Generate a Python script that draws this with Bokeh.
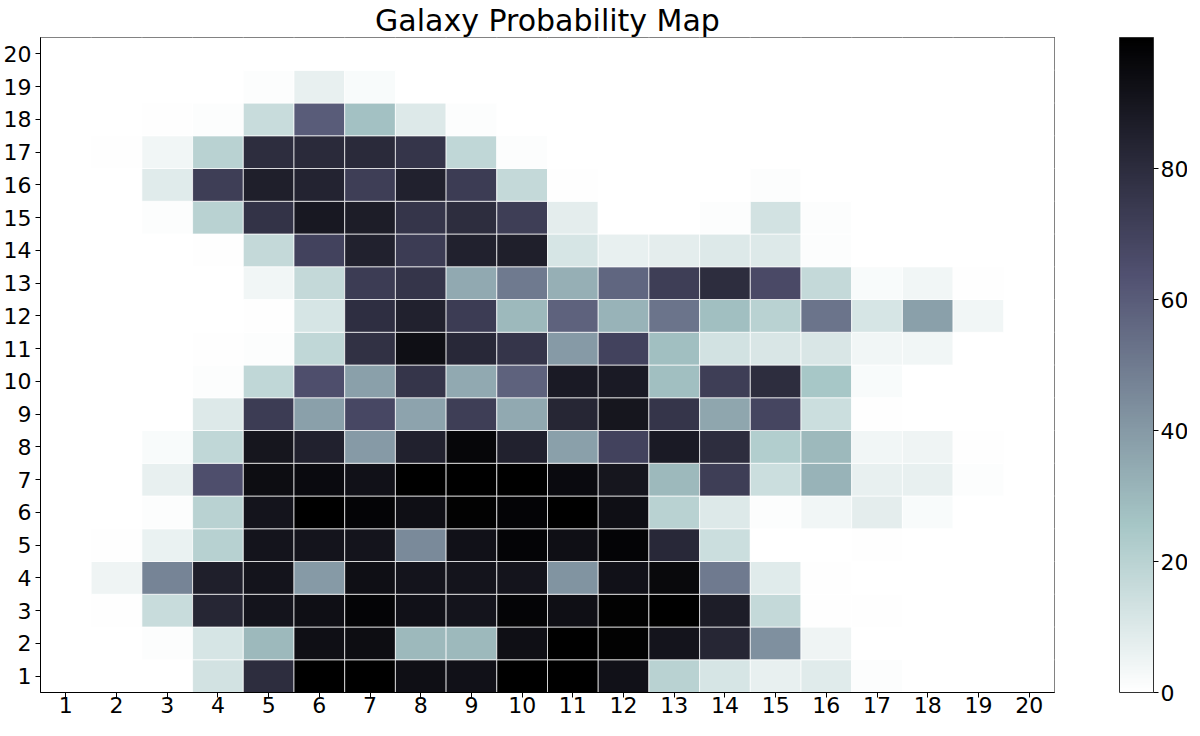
import numpy as np
from bokeh.plotting import figure
from bokeh.models import LinearColorMapper, ColorBar, FixedTicker, ColumnDataSource
from bokeh.transform import transform
from bokeh.embed import file_html
from bokeh.resources import INLINE

# ---- data: probability (%) per cell, columns 1..20, one list per row ----
row_20 = [0, 0, 0, 0, 0, 0, 0, 0, 0, 0, 0, 0, 0, 0, 0, 0, 0, 0, 0, 0]
row_19 = [0, 0, 0, 0, 1, 7, 2, 0, 0, 0, 0, 0, 0, 0, 0, 0, 0, 0, 0, 0]
row_18 = [0, 0, 0.5, 1, 16, 60, 27, 10, 1, 0, 0, 0, 0, 0, 0, 0, 0, 0, 0, 0]
row_17 = [0, 0.5, 4, 20, 80, 81, 81, 76, 18, 1, 0, 0, 0, 0, 0, 0, 0, 0, 0, 0]
row_16 = [0, 0, 9, 72, 86, 84, 72, 85, 73, 17, 0.5, 0, 0, 0, 1, 0, 0, 0, 0, 0]
row_15 = [0, 0, 1, 20, 77, 89, 87, 76, 80, 72, 8, 0, 0, 1, 13, 1, 0, 0, 0, 0]
row_14 = [0, 0, 0, 0.5, 17, 70, 85, 73, 85, 86, 12, 7, 8, 10, 10, 1, 0, 0, 0, 0]
row_13 = [0, 0, 0, 0, 4, 17, 73, 76, 35, 50, 33, 57, 72, 80, 67, 17, 2, 4, 0.5, 0]
row_12 = [0, 0, 0, 0, 0.5, 12, 79, 85, 73, 30, 58, 32, 52, 28, 20, 52, 12, 38, 4, 0]
row_11 = [0, 0, 0, 0.5, 1, 18, 78, 93, 82, 76, 40, 70, 28, 13, 11, 11, 4, 4, 0, 0]
row_10 = [0, 0, 0, 1, 18, 65, 38, 76, 35, 58, 88, 88, 28, 72, 80, 25, 2, 0, 0, 0]
row_09 = [0, 0, 0, 10, 73, 38, 68, 37, 72, 35, 83, 90, 76, 36, 69, 15, 0.5, 0, 0, 0]
row_08 = [0, 0, 2, 18, 90, 85, 40, 85, 97, 85, 38, 70, 88, 80, 22, 30, 4, 5, 0.5, 0]
row_07 = [0, 0, 7, 65, 94, 95, 92, 100, 100, 100, 95, 90, 30, 72, 15, 32, 7, 7, 1, 0]
row_06 = [0, 0, 1, 20, 91, 100, 98, 93, 99, 98, 100, 93, 20, 10, 1, 4, 8, 2, 0, 0]
row_05 = [0, 0.5, 6, 21, 91, 91, 91, 45, 92, 98, 93, 98, 82, 15, 0, 0, 0.5, 0, 0, 0]
row_04 = [0, 5, 47, 86, 91, 40, 93, 91, 91, 91, 42, 92, 96, 50, 9, 0.5, 0, 0, 0, 0]
row_03 = [0, 0.5, 16, 83, 91, 93, 98, 92, 91, 98, 93, 99, 100, 87, 17, 0.5, 0.5, 0, 0, 0]
row_02 = [0, 0, 1, 12, 30, 93, 94, 30, 30, 93, 100, 99, 91, 83, 43, 5, 0, 0, 0, 0]
row_01 = [0, 0, 0, 13, 80, 100, 100, 93, 92, 100, 100, 92, 20, 12, 7, 9, 1, 0, 0, 0]

rows = [row_01, row_02, row_03, row_04, row_05, row_06, row_07, row_08, row_09, row_10,
        row_11, row_12, row_13, row_14, row_15, row_16, row_17, row_18, row_19, row_20]
tick_values = list(range(1, 21))
colorbar_ticks = [0, 20, 40, 60, 80]
title_text = "Galaxy Probability Map"


def bone_r_palette(n=256):
    s = np.linspace(0, 1, n)
    r = np.interp(s, [0, 0.746032, 1], [0, 0.652778, 1])
    g = np.interp(s, [0, 0.365079, 0.746032, 1], [0, 0.319444, 0.777778, 1])
    b = np.interp(s, [0, 0.365079, 1], [0, 0.444444, 1])
    cols = ["#%02x%02x%02x" % (int(round(a * 255)), int(round(c * 255)), int(round(d * 255)))
            for a, c, d in zip(r, g, b)]
    return cols[::-1]


xs, ys, vs = [], [], []
for yi, row in enumerate(rows, start=1):
    for xi, v in enumerate(row, start=1):
        xs.append(xi)
        ys.append(yi)
        vs.append(v)
src = ColumnDataSource(dict(x=xs, y=ys, v=vs))

mapper = LinearColorMapper(palette=bone_r_palette(), low=0, high=100)

FONT = "DejaVu Sans"
FW, FH = 1014, 655
p = figure(frame_width=FW, frame_height=FH, x_range=(0.5, 20.5), y_range=(0.5, 20.5),
           output_backend="svg", toolbar_location=None, title=title_text,
           min_border_left=5, min_border_right=133, min_border_top=0, min_border_bottom=35)

p.rect(x="x", y="y", width=1, height=1, source=src,
       fill_color=transform("v", mapper), line_color="white", line_width=0.7)

p.title.align = "center"
p.title.text_font = FONT
p.title.text_font_size = "30px"
p.title.text_font_style = "normal"
p.title.text_color = "black"
p.title.standoff = 0

p.xgrid.visible = False
p.ygrid.visible = False
p.outline_line_color = "black"
p.outline_line_width = 1
p.background_fill_color = "white"
p.border_fill_color = "white"

for ax in (p.xaxis[0], p.yaxis[0]):
    ax.ticker = FixedTicker(ticks=tick_values)
    ax.major_label_text_font = FONT
    ax.major_label_text_font_size = "22px"
    ax.major_label_text_color = "black"
    ax.major_tick_in = 0
    ax.major_tick_out = 5
    ax.minor_tick_line_color = None
    ax.axis_line_color = "black"
    ax.major_tick_line_color = "black"
p.xaxis[0].major_label_standoff = -1
p.yaxis[0].major_label_standoff = 4

cb = ColorBar(color_mapper=mapper, ticker=FixedTicker(ticks=colorbar_ticks),
              width=34, height=FH, location=(FW + 65, 0), padding=0, margin=0,
              major_tick_in=0, major_tick_out=5, major_tick_line_color="black",
              bar_line_color="#333333", bar_line_width=1,
              major_label_text_font=FONT, major_label_text_font_size="22px",
              major_label_text_color="black", label_standoff=2,
              border_line_color=None, background_fill_color=None)
p.add_layout(cb, "center")

open("out.html", "w").write(file_html(p, INLINE))
